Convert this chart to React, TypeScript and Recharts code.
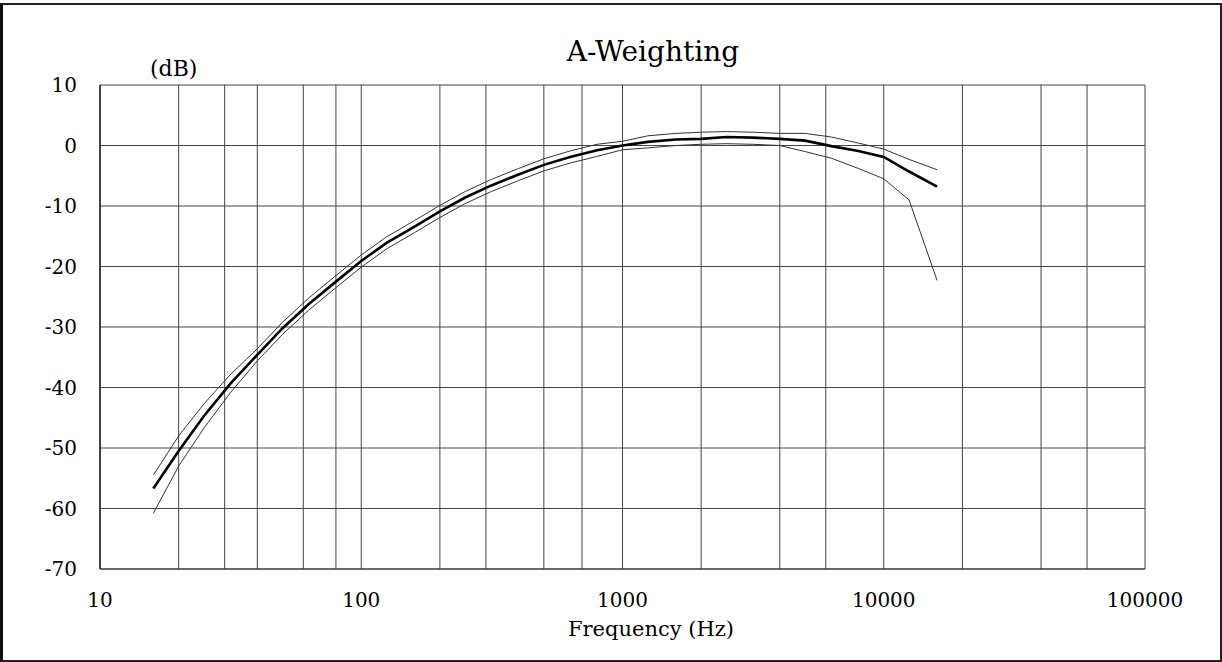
import React from 'react';
import { LineChart, Line, XAxis, YAxis, CartesianGrid } from 'recharts';

// third-octave band centres (Hz)
const freqs = [
  16, 20, 25, 31.5, 40, 50, 63, 80, 100, 125, 160, 200, 250, 315, 400, 500,
  630, 800, 1000, 1250, 1600, 2000, 2500, 3150, 4000, 5000, 6300, 8000,
  10000, 12500, 16000,
];

// A-weighting curve (dB)
const aWeight = [
  -56.7, -50.5, -44.7, -39.4, -34.6, -30.2, -26.2, -22.5, -19.1, -16.1, -13.4,
  -10.9, -8.6, -6.6, -4.8, -3.2, -1.9, -0.8, 0, 0.6, 1.0, 1.1, 1.4, 1.3, 1.1,
  0.8, -0.1, -0.9, -1.9, -4.3, -6.8,
];

// tolerance limits (dB)
const upperTol = [
  -54.5, -48.0, -42.7, -37.9, -33.6, -29.2, -25.2, -21.5, -18.1, -15.1, -12.4,
  -9.9, -7.6, -5.6, -3.8, -2.2, -0.9, 0.2, 0.7, 1.6, 2.0, 2.2, 2.3, 2.2, 2.0,
  2.0, 1.4, 0.4, -0.6, -2.3, -4.0,
];

const lowerTol = [
  -60.8, -53.0, -46.7, -40.9, -35.6, -31.2, -27.2, -23.5, -20.1, -17.1, -14.4,
  -11.9, -9.6, -7.6, -5.8, -4.2, -2.9, -1.8, -0.7, -0.4, 0.0, 0.2, 0.3, 0.2,
  0.0, -1.0, -2.1, -3.8, -5.5, -9.0, -22.3,
];

const xTicks = [10, 100, 1000, 10000, 100000];
const yTicks = [10, 0, -10, -20, -30, -40, -50, -60, -70];

const gridFreqs = [
  10, 20, 30, 40, 50, 60, 70, 80, 90,
  100, 200, 300, 400, 500, 600, 700, 800, 900,
  1000, 2000, 3000, 4000, 5000, 6000, 7000, 8000, 9000,
  10000, 20000, 30000, 40000, 50000, 60000, 70000, 80000, 90000,
  100000,
];

const data = freqs.map((f, i) => ({
  f,
  nominal: aWeight[i],
  upper: upperTol[i],
  lower: lowerTol[i],
}));

const FONT = '"DejaVu Serif", "Liberation Serif", serif';

const App: React.FC = () => {
  return (
    <div
      style={{
        position: 'absolute',
        left: 0,
        top: 0,
        width: 1222,
        height: 662,
        background: '#fff',
        fontFamily: FONT,
        color: '#000',
      }}
    >
      {/* outer frame */}
      <div
        style={{
          position: 'absolute',
          left: 0,
          top: 3,
          width: 1222,
          height: 659,
          boxSizing: 'border-box',
          borderTop: '2px solid #222',
          borderRight: '2px solid #222',
          borderBottom: '2px solid #222',
          borderLeft: '3px solid #111',
        }}
      />
      <div
        style={{
          position: 'absolute',
          left: 0,
          width: 1306,
          top: 35,
          textAlign: 'center',
          fontSize: 28,
        }}
      >
        A-Weighting
      </div>
      <div style={{ position: 'absolute', left: 150, top: 56, fontSize: 22 }}>(dB)</div>
      <div
        style={{
          position: 'absolute',
          left: 0,
          width: 1302,
          top: 617,
          textAlign: 'center',
          fontSize: 21,
        }}
      >
        Frequency (Hz)
      </div>

      <LineChart
        width={1222}
        height={662}
        data={data}
        margin={{ top: 85, right: 77, bottom: 0, left: 0 }}
        style={{ position: 'absolute', left: 0, top: 0 }}
      >
        <CartesianGrid
          stroke="#444"
          strokeWidth={1}
          verticalValues={gridFreqs}
          horizontalValues={yTicks}
        />
        <XAxis
          dataKey="f"
          type="number"
          scale="log"
          domain={[10, 100000]}
          ticks={xTicks}
          height={93}
          tickSize={0}
          tickMargin={24}
          axisLine={{ stroke: '#333' }}
          tick={{ fill: '#000', fontSize: 20, fontFamily: FONT }}
        />
        <YAxis
          type="number"
          domain={[-70, 10]}
          ticks={yTicks}
          width={100}
          tickSize={0}
          tickMargin={23}
          axisLine={{ stroke: '#222', strokeWidth: 1.5 }}
          tick={{ fill: '#000', fontSize: 20, fontFamily: FONT }}
        />
        <Line
          dataKey="upper"
          stroke="#333"
          strokeWidth={1}
          dot={false}
          isAnimationActive={false}
        />
        <Line
          dataKey="lower"
          stroke="#333"
          strokeWidth={1}
          dot={false}
          isAnimationActive={false}
        />
        <Line
          dataKey="nominal"
          stroke="#000"
          strokeWidth={2.6}
          dot={false}
          isAnimationActive={false}
        />
      </LineChart>
    </div>
  );
};

export default App;
